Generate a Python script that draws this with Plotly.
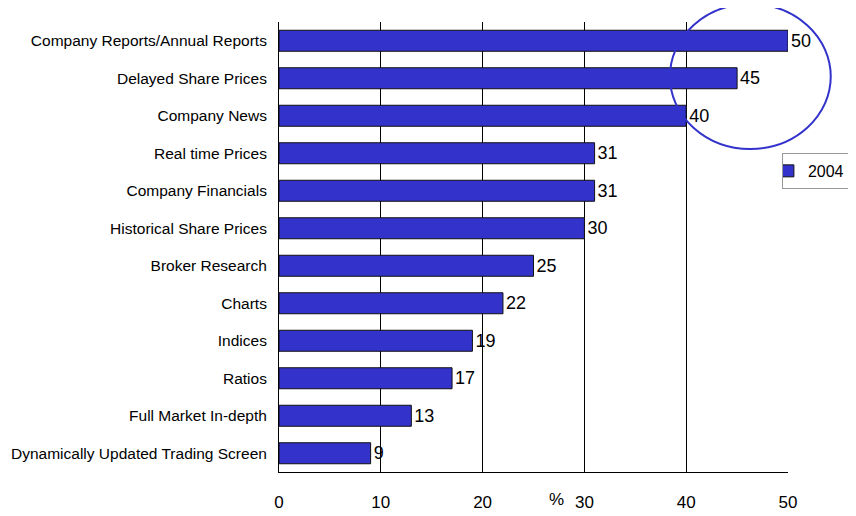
import plotly.graph_objects as go

# Survey data: share of respondents (%) using each information type, 2004
categories = [
    "Company Reports/Annual Reports",
    "Delayed Share Prices",
    "Company News",
    "Real time Prices",
    "Company Financials",
    "Historical Share Prices",
    "Broker Research",
    "Charts",
    "Indices",
    "Ratios",
    "Full Market In-depth",
    "Dynamically Updated Trading Screen",
]
values_2004 = [50, 45, 40, 31, 31, 30, 25, 22, 19, 17, 13, 9]
x_ticks = [0, 10, 20, 30, 40, 50]

bar_color = "#3333CC"

fig = go.Figure()
fig.add_trace(go.Bar(
    x=values_2004,
    y=categories,
    orientation="h",
    name="2004",
    marker=dict(color=bar_color, line=dict(color="#111111", width=1)),
    width=0.56,
    text=values_2004,
    textposition="outside",
    textfont=dict(size=18, color="black"),
    cliponaxis=False,
))

# page body adds an 8px margin, so the figure is 848x508
fig.update_layout(
    width=848,
    height=508,
    margin=dict(l=271, r=68, t=14, b=44, autoexpand=False),
    paper_bgcolor="white",
    plot_bgcolor="white",
    font=dict(family="Liberation Sans, Arial, sans-serif", color="black"),
    showlegend=True,
    legend=dict(
        x=0.988, xanchor="left", y=0.709, yanchor="top",
        bordercolor="#999999", borderwidth=1, bgcolor="white",
        font=dict(size=16), itemwidth=30, indentation=-15,
        tracegroupgap=0,
    ),
    xaxis=dict(
        range=[0, 50],
        tickvals=x_ticks,
        showgrid=True, gridcolor="black", gridwidth=1,
        showline=True, linecolor="black", linewidth=1,
        zeroline=False,
        tickfont=dict(size=17),
        ticklabelstandoff=15,
    ),
    yaxis=dict(
        autorange="reversed",
        showgrid=False,
        showline=True, linecolor="black", linewidth=1,
        tickfont=dict(size=15.5),
        ticklabelstandoff=8,
    ),
)

# "%" axis marker sitting between the tick labels
fig.add_annotation(
    text="%", x=0.546, xref="paper", y=-0.035, yref="paper",
    showarrow=False, font=dict(size=17), yanchor="top",
)

# highlight ring around the top three bars
fig.add_shape(
    type="circle", xref="paper", yref="paper",
    x0=0.768, x1=1.084, y0=0.718, y1=1.04,
    line=dict(color=bar_color, width=2),
)

fig.write_html("out.html")
